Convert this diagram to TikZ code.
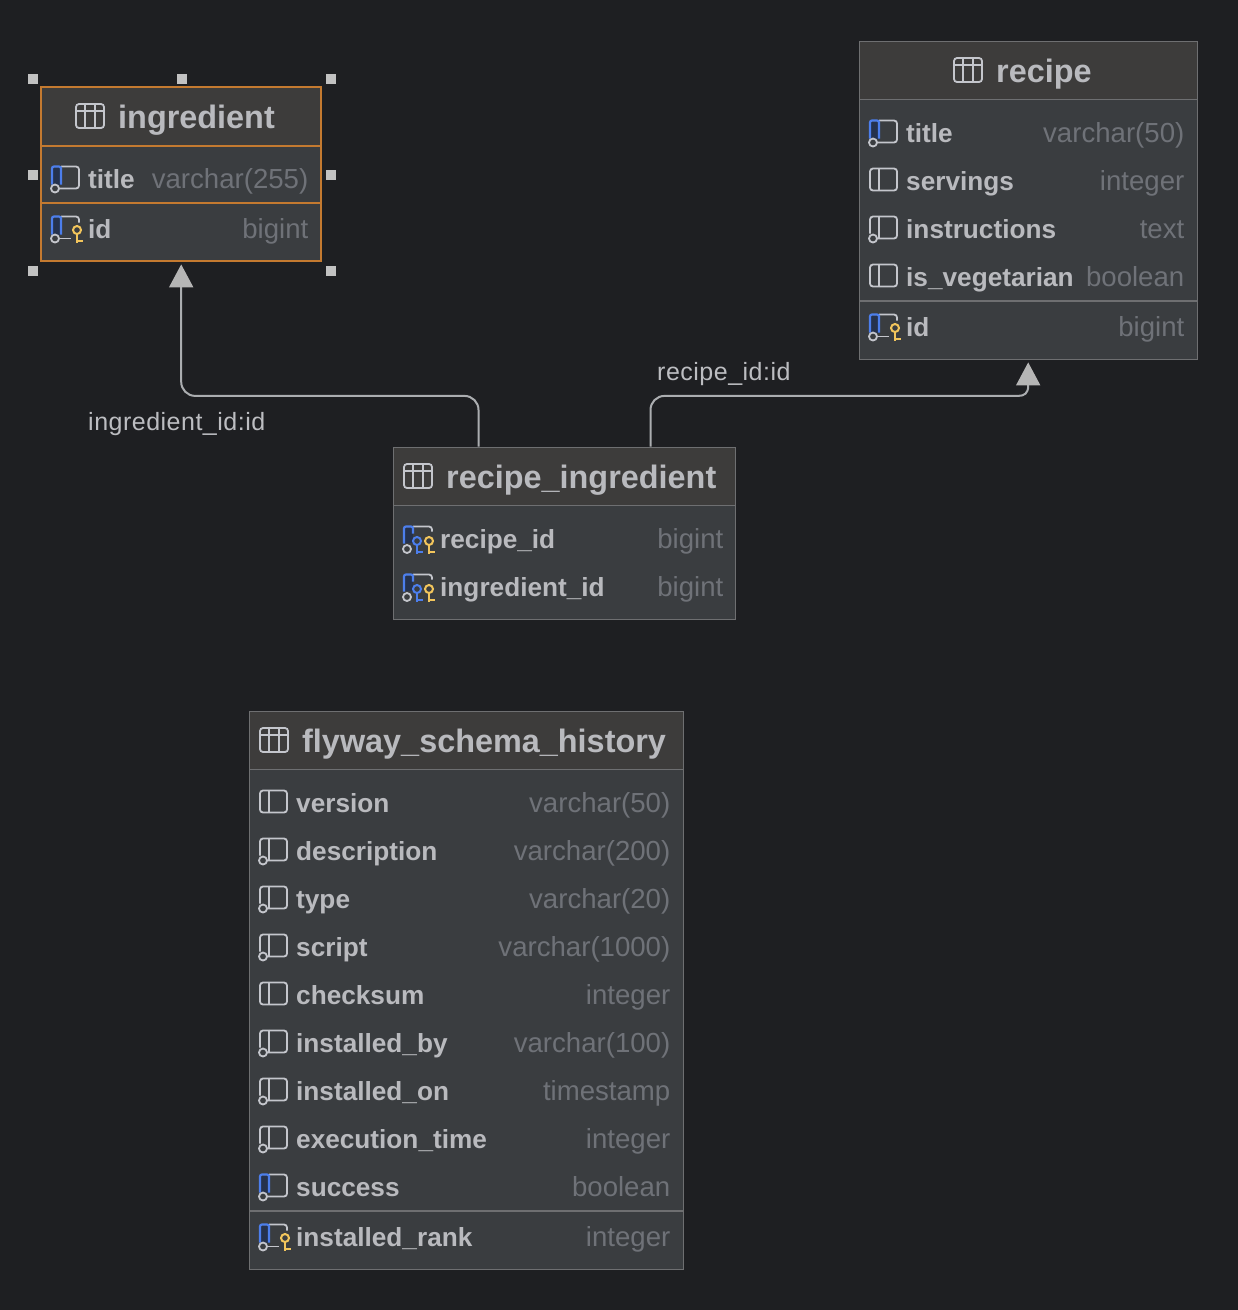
\documentclass[tikz,border=0pt]{standalone}
\usepackage{fontspec}
\setmainfont{Liberation Sans}
\usetikzlibrary{positioning, arrows.meta, calc}

\definecolor{canvasgray}{HTML}{1E1F22}
\definecolor{bodygray}{HTML}{3A3D40}
\definecolor{headgray}{HTML}{3D3C3B}
\definecolor{framegray}{HTML}{6E6F71}
\definecolor{namegray}{HTML}{B9BABE}
\definecolor{typegray}{HTML}{6F7278}
\definecolor{linkgray}{HTML}{ABADB0}
\definecolor{tipgray}{HTML}{B5B5B5}
\definecolor{handlegray}{HTML}{C2C2C2}
\definecolor{iconline}{HTML}{C4C6CC}
\definecolor{keyblue}{HTML}{4C7EEC}
\definecolor{stripblue}{HTML}{25324D}
\definecolor{keygold}{HTML}{F2C55C}
\definecolor{selorange}{HTML}{C47A30}

\begin{document}
\begin{tikzpicture}[
    x=1pt, y=-1pt,
    tablebox/.style={
        rectangle,
        anchor=north west,
        draw=framegray,
        fill=bodygray,
        line width=1.4pt,
        inner sep=0pt
    },
    tablehead/.style={
        tablebox,
        fill=headgray
    },
    tabletitle/.style={
        anchor=base west,
        inner sep=0pt,
        text=namegray,
        font=\fontsize{32.4}{36}\selectfont\bfseries
    },
    colname/.style={
        anchor=base west,
        inner sep=0pt,
        text=namegray,
        font=\fontsize{26.2}{30}\selectfont\bfseries
    },
    coltype/.style={
        anchor=base east,
        inner sep=0pt,
        text=typegray,
        font=\fontsize{27.6}{30}\selectfont
    },
    linklabel/.style={
        anchor=base west,
        inner sep=0pt,
        text=namegray!95!white,
        font=\fontsize{25}{28}\selectfont\addfontfeature{LetterSpace=2}
    },
    rowsep/.style={
        draw=#1,
        line width=1.4pt
    },
    rowsep/.default=framegray,
    link/.style={
        draw=linkgray,
        line width=2pt,
        -{Triangle[length=23pt,width=24pt,color=tipgray]},
        shorten >=2.5pt
    },
    handle/.style={
        rectangle,
        fill=handlegray,
        minimum size=10pt,
        inner sep=0pt
    },
    iconstroke/.style={
        draw=iconline,
        line width=1.8pt
    },
    tableicon/.pic={
        \draw[iconstroke, rounded corners=3pt] (0,-12) rectangle (28,12);
        \draw[iconstroke] (0,-5) -- (28,-5);
        \draw[iconstroke] (9.3,-12) -- (9.3,12);
        \draw[iconstroke] (18.7,-12) -- (18.7,12);
    },
    keyicon/.pic={
        \draw[#1, line width=2pt] (0,4) -- (0,13) (0,10.5) -- (5.5,10.5);
        \draw[#1, line width=2pt, fill=bodygray] (0,0) circle (4);
    },
    nullring/.pic={
        \draw[iconstroke, fill=bodygray] (0,0) circle (4);
    },
    colplain/.pic={
        \draw[iconstroke, rounded corners=3pt] (0,-11) rectangle (27,11);
        \draw[iconstroke] (9,-11) -- (9,11);
    },
    colnull/.pic={
        \draw[iconstroke, rounded corners=3pt] (9,-11) -- (27,-11) -- (27,11) -- (7,11);
        \draw[iconstroke, rounded corners=3pt] (9,-11) -- (0,-11) -- (0,6);
        \draw[iconstroke] (9,-11) -- (9,11);
        \pic at (3,11) {nullring};
    },
    colblue/.pic={
        \draw[iconstroke, rounded corners=3pt] (9,-11) -- (27,-11) -- (27,11) -- (7,11);
        \fill[stripblue] (0,-10) rectangle (9,7);
        \draw[keyblue, line width=2.2pt, rounded corners=2pt] (0,7) -- (0,-11) -- (9,-11) -- (9,7);
        \pic at (3,11) {nullring};
    },
    colpk/.pic={
        \draw[iconstroke, rounded corners=3pt] (9,-11) -- (27,-11) -- (27,-5);
        \draw[iconstroke] (7,11) -- (19,11);
        \fill[stripblue] (0,-10) rectangle (9,7);
        \draw[keyblue, line width=2.2pt, rounded corners=2pt] (0,7) -- (0,-11) -- (9,-11) -- (9,7);
        \pic at (3,11) {nullring};
        \pic at (25,2.5) {keyicon=keygold};
    },
    colfk/.pic={
        \draw[iconstroke, rounded corners=3pt] (9,-11) -- (28,-11) -- (28,-6);
        \fill[stripblue] (0,-10) rectangle (9,5);
        \draw[keyblue, line width=2.2pt, rounded corners=2pt] (0,6) -- (0,-11) -- (9,-11) -- (9,-4);
        \pic at (3,11.5) {nullring};
        \pic at (13,3.5) {keyicon=keyblue};
        \pic at (25,3.5) {keyicon=keygold};
    }
]

\useasboundingbox[fill=canvasgray] (0,0) rectangle (1238,1310);

% Table ingredient (selected)
\node[tablebox, minimum width=280pt, minimum height=174pt] (ingredient) at (40.5,86.5) {};
\node[tablehead, minimum width=280pt, minimum height=58pt] (ingredienthead) at (40.5,86.5) {};
\draw[rowsep=selorange, line width=2pt] ($(ingredient.north west)+(0.5,0.5)$) rectangle ($(ingredient.south east)+(-0.5,-0.5)$);
\draw[rowsep=selorange] (ingredienthead.south west) -- (ingredienthead.south east);
\pic at (76,116) {tableicon};
\node[tabletitle] (ingredienttitle) at (118,128) {ingredient};
\draw[rowsep=selorange] (41,203) -- (321,203);
\foreach \col/\kind/\icon/\ya in {title/varchar(255)/colblue/179, id/bigint/colpk/229} {
    \pic at (52,\ya-1.5) {\icon};
    \node[colname] (ingredient-\ya) at (88,\ya+9) {\col};
    \node[coltype] (ingredienttype-\ya) at (308.5,\ya+9) {\kind};
}

% Selection handles
\node[handle] (hnw) at (33,79) {};
\node[handle] (hn) at (181.5,79) {};
\node[handle] (hne) at (331,79) {};
\node[handle] (hw) at (33,175) {};
\node[handle] (he) at (331,175) {};
\node[handle] (hsw) at (33,271) {};
\node[handle] (hse) at (331,271) {};

% Table recipe
\node[tablebox, minimum width=338pt, minimum height=318pt] (recipe) at (858.5,40.5) {};
\node[tablehead, minimum width=338pt, minimum height=58pt] (recipehead) at (858.5,40.5) {};
\pic at (954,70) {tableicon};
\node[tabletitle] (recipetitle) at (996,82) {recipe};
\draw[rowsep] (859,301) -- (1197,301);
\foreach \col/\kind/\icon/\ya in {title/varchar(50)/colblue/133, servings/integer/colplain/181,
    instructions/text/colnull/229, is\_vegetarian/boolean/colplain/277, id/bigint/colpk/327} {
    \pic at (870,\ya-1.5) {\icon};
    \node[colname] (recipe-\ya) at (906,\ya+9) {\col};
    \node[coltype] (recipetype-\ya) at (1184.5,\ya+9) {\kind};
}

% Table recipe_ingredient
\node[tablebox, minimum width=342pt, minimum height=172pt] (recipeingredient) at (392.5,446.5) {};
\node[tablehead, minimum width=342pt, minimum height=58pt] (recipeingredienthead) at (392.5,446.5) {};
\pic at (404,476) {tableicon};
\node[tabletitle] (recipeingredienttitle) at (446,488) {recipe\_ingredient};
\foreach \col/\kind/\icon/\ya in {recipe\_id/bigint/colfk/539, ingredient\_id/bigint/colfk/587} {
    \pic at (404,\ya-1.5) {\icon};
    \node[colname] (recipeingredient-\ya) at (440,\ya+9) {\col};
    \node[coltype] (recipeingredienttype-\ya) at (723.5,\ya+9) {\kind};
}

% Table flyway_schema_history
\node[tablebox, minimum width=434pt, minimum height=558pt] (flyway) at (248.5,710.5) {};
\node[tablehead, minimum width=434pt, minimum height=58pt] (flywayhead) at (248.5,710.5) {};
\pic at (260,740) {tableicon};
\node[tabletitle] (flywaytitle) at (302,752) {flyway\_schema\_history};
\draw[rowsep] (249,1211) -- (683,1211);
\foreach \col/\kind/\icon/\ya in {version/varchar(50)/colplain/803, description/varchar(200)/colnull/851,
    type/varchar(20)/colnull/899, script/varchar(1000)/colnull/947, checksum/integer/colplain/995,
    installed\_by/varchar(100)/colnull/1043, installed\_on/timestamp/colnull/1091,
    execution\_time/integer/colnull/1139, success/boolean/colblue/1187, installed\_rank/integer/colpk/1237} {
    \pic at (260,\ya-1.5) {\icon};
    \node[colname] (flyway-\ya) at (296,\ya+9) {\col};
    \node[coltype] (flywaytype-\ya) at (670.5,\ya+9) {\kind};
}

% Foreign keys
\coordinate (ingredientfk) at ($(recipeingredient.north west)+(86,0)$);
\coordinate (recipefk) at ($(recipeingredient.north west)+(258,0)$);
\draw[link, rounded corners=14pt] (ingredientfk) |- ($(ingredient.south)+(0,134)$) -- (ingredient.south);
\draw[link] (recipefk) [rounded corners=14pt] |- ($(recipe.south)+(-24,36)$) [sharp corners]
    .. controls ($(recipe.south)+(-4,36)$) and ($(recipe.south)+(0,33.5)$) .. ($(recipe.south)+(0,26)$) -- (recipe.south);
\node[linklabel] (ingredientlabel) at (88,430) {ingredient\_id:id};
\node[linklabel] (recipelabel) at (657,380) {recipe\_id:id};

\end{tikzpicture}
\end{document}
